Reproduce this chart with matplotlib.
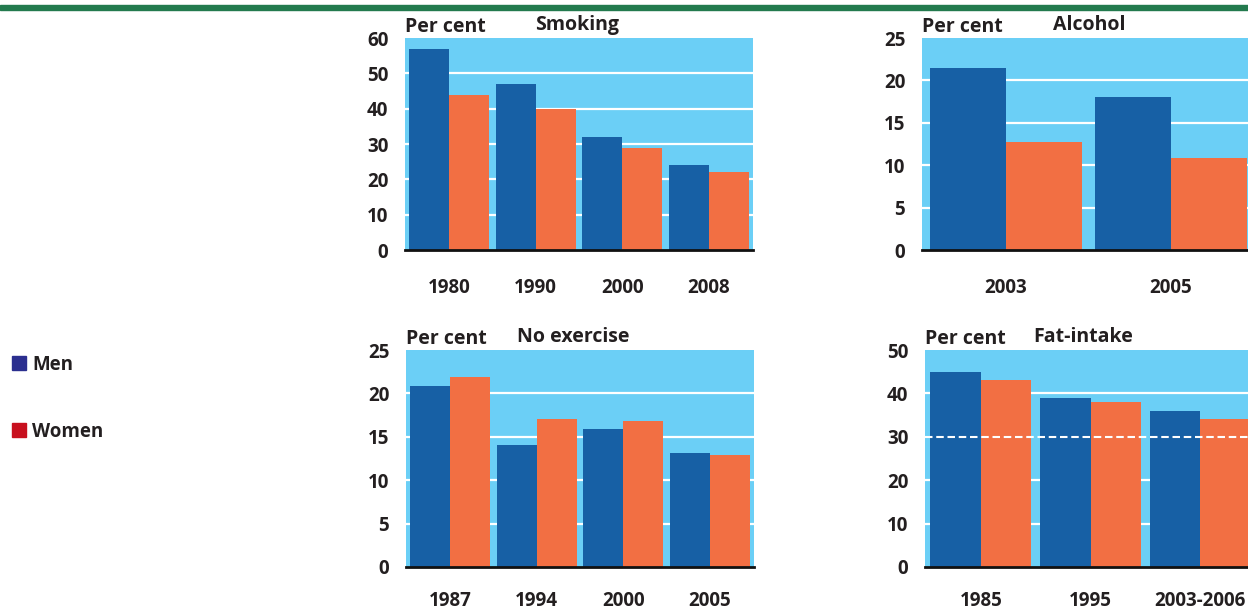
import matplotlib
matplotlib.use('Agg')
import matplotlib.pyplot as plt
from matplotlib.patches import Rectangle
import numpy as np

plt.rcParams['font.family'] = ['Open Sans', 'DejaVu Sans']
plt.rcParams['font.weight'] = 'bold'

# data
smoking_years = ['1980', '1990', '2000', '2008']
smoking_men = [57, 47, 32, 24]
smoking_women = [44, 40, 29, 22]

alcohol_years = ['2003', '2005']
alcohol_men = [21.5, 18.0]
alcohol_women = [12.7, 10.8]

exercise_years = ['1987', '1994', '2000', '2005']
exercise_men = [20.8, 14.0, 15.9, 13.1]
exercise_women = [21.9, 17.0, 16.8, 12.9]

fat_years = ['1985', '1995', '2003-2006']
fat_men = [45, 39, 36]
fat_women = [43, 38, 34]
fat_target = 30

MEN_C = '#1760a5'
WOMEN_C = '#f26f43'
BG_C = '#6bcff6'
TEXT_C = '#231f20'

W, H = 1248, 612
fig = plt.figure(figsize=(W / 100, H / 100), dpi=100)


def px_axes(left, top, right, bottom):
    return fig.add_axes([left / W, 1 - bottom / H, (right - left) / W, (bottom - top) / H])


def panel(box, title, title_x, years, men, women, ymax, step, skip_grid=(), xpad=20):
    ax = px_axes(*box)
    ax.set_facecolor(BG_C)
    x = np.arange(len(years))
    w = 0.46
    ax.bar(x - w / 2, men, w, color=MEN_C, zorder=2)
    ax.bar(x + w / 2, women, w, color=WOMEN_C, zorder=2)
    ax.set_xlim(-0.51, len(years) - 0.49)
    ax.set_ylim(0, ymax)
    ticks = np.arange(0, ymax + step / 2, step)
    for v in ticks[1:-1]:
        if v not in skip_grid:
            ax.axhline(v, color='white', lw=1.6, zorder=1)
    ax.set_yticks(ticks)
    ax.set_yticklabels([f'{t:g}' for t in ticks])
    ax.set_xticks(x)
    ax.set_xticklabels(years)
    ax.tick_params(axis='y', length=0, pad=12, labelsize=13.5, labelcolor=TEXT_C)
    ax.tick_params(axis='x', length=0, pad=xpad, labelsize=13.5, labelcolor=TEXT_C)
    for s in ['top', 'left', 'right']:
        ax.spines[s].set_visible(False)
    ax.spines['bottom'].set_color('#111111')
    ax.spines['bottom'].set_linewidth(2)
    ax.spines['bottom'].set_zorder(4)
    left, top = box[0], box[1]
    fig.text(left / W, 1 - (top - 6) / H, 'Per cent', fontsize=14, color=TEXT_C,
             ha='left', va='baseline', fontweight='bold')
    fig.text(title_x / W, 1 - (top - 8) / H, title, fontsize=14, color=TEXT_C,
             ha='left', va='baseline', fontweight='bold')
    return ax


panel((405, 38, 753, 250), 'Smoking', 535, smoking_years, smoking_men, smoking_women, 60, 10)
panel((922, 38, 1255, 250), 'Alcohol', 1053, alcohol_years, alcohol_men, alcohol_women, 25, 5)
panel((406, 350, 754, 567), 'No exercise', 517, exercise_years, exercise_men, exercise_women,
      25, 5, xpad=17)
ax4 = panel((925, 350, 1256, 567), 'Fat-intake', 1033, fat_years, fat_men, fat_women, 50, 10,
            skip_grid=(fat_target,), xpad=17)
ax4.axhline(fat_target, color='white', lw=1.5, ls=(0, (3.6, 1.8)), zorder=3)

# green rule at the top
fig.patches.append(Rectangle((0, 1 - 9.5 / H), 1, 4.5 / H, transform=fig.transFigure,
                             color='#237a4e', zorder=5))

# legend
for y, label, c in [(356, 'Men', '#2b2f8f'), (423, 'Women', '#c8101e')]:
    fig.patches.append(Rectangle((12 / W, 1 - (y + 14) / H), 14 / W, 14 / H,
                                 transform=fig.transFigure, color=c))
    fig.text(32 / W, 1 - (y + 14) / H, label, fontsize=13.5, color=TEXT_C,
             ha='left', va='baseline', fontweight='bold')

fig.savefig('out.png', dpi=100)
